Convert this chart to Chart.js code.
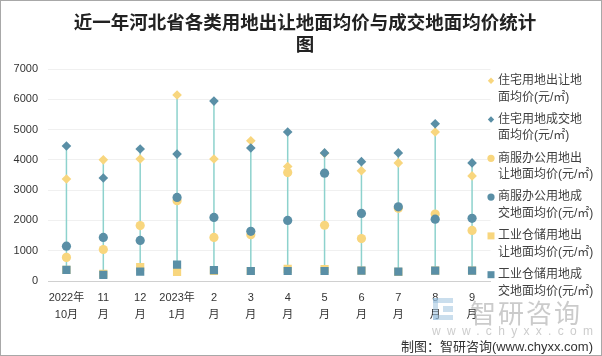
<!DOCTYPE html>
<html>
<head>
<meta charset="utf-8">
<script src="https://cdn.jsdelivr.net/npm/chart.js@4"></script>
<style>
  html,body{margin:0;padding:0;background:#fff;}
  #wrap{position:relative;width:602px;height:356px;overflow:hidden;font-family:'Liberation Sans','Noto Sans CJK SC',sans-serif;}
  #c{position:absolute;left:0;top:0;}
  #frame{position:absolute;left:0;top:0;width:602px;height:356px;box-sizing:border-box;border:1px solid #a8a8a8;pointer-events:none;}
  #title{position:absolute;left:0;top:12px;width:610px;text-align:center;font:bold 18.5px 'DejaVu Serif','Noto Sans CJK SC',serif;line-height:22px;color:#222;}
  #wm1{position:absolute;left:470px;top:293px;font:26px 'Noto Sans CJK SC',sans-serif;color:rgba(160,160,160,0.55);letter-spacing:2px;}
  #wm2{position:absolute;left:432px;top:324px;font:12px 'Liberation Sans',sans-serif;color:rgba(170,170,170,0.6);letter-spacing:6.3px;}
  #icon{position:absolute;left:433px;top:298px;width:20px;height:22px;}
  #icon div{position:absolute;background:rgba(150,190,220,0.5);}
  #foot{position:absolute;right:9px;top:336px;font:13px 'Liberation Sans','Noto Sans CJK SC',sans-serif;color:#333;}
</style>
</head>
<body>
<div id="wrap">
  <canvas id="c" width="602" height="356"></canvas>
  <div id="title">近一年河北省各类用地出让地面均价与成交地面均价统计<br>图</div>
  <div id="icon"><div style="left:0;top:0;width:20px;height:5px"></div><div style="left:0;top:0;width:5px;height:22px"></div><div style="left:0;top:17px;width:20px;height:5px"></div><div style="left:10px;top:8px;width:10px;height:6px"></div></div>
  <div id="wm1">智研咨询</div>
  <div id="wm2">www.chyxx.com</div>
  <div id="foot">制图：智研咨询(www.chyxx.com)</div>
  <div id="frame"></div>
</div>
<script>
// ---- data ----
const categories = [['2022年','10月'],['11','月'],['12','月'],['2023年','1月'],['2','月'],['3','月'],['4','月'],['5','月'],['6','月'],['7','月'],['8','月'],['9','月']];
const resTransfer = [3370, 4000, 4030, 6140, 4030, 4630, 3780, 4220, 3640, 3900, 4920, 3470];
const resDeal     = [4460, 3400, 4360, 4190, 5940, 4390, 4920, 4230, 3940, 4230, 5190, 3900];
const comTransfer = [780, 1040, 1830, 2650, 1440, 1530, 3580, 1840, 1400, 2400, 2210, 1670];
const comDeal     = [1150, 1440, 1340, 2760, 2100, 1640, 2000, 3560, 2230, 2450, 2040, 2070];
const indTransfer = [370, 240, 460, 300, 330, 330, 400, 390, 340, 300, 340, 340];
const indDeal     = [370, 200, 310, 540, 360, 330, 330, 330, 340, 310, 340, 340];
const yTicks = [0, 1000, 2000, 3000, 4000, 5000, 6000, 7000];
const legendLabels = [
  ['住宅用地出让地','面均价(元/㎡)'],
  ['住宅用地成交地','面均价(元/㎡)'],
  ['商服办公用地出','让地面均价(元/㎡)'],
  ['商服办公用地成','交地面均价(元/㎡)'],
  ['工业仓储用地出','让地面均价(元/㎡)'],
  ['工业仓储用地成','交地面均价(元/㎡)']
];

const YEL = '#F8D67E', BLU = '#5A8FA6', LINE = '#8DD2CD';
const allSeries = [resTransfer, resDeal, comTransfer, comDeal, indTransfer, indDeal];

const styles = [
  {c: YEL, s: 'rectRot', r: 4.8},
  {c: BLU, s: 'rectRot', r: 4.8},
  {c: YEL, s: 'circle', r: 4.6},
  {c: BLU, s: 'circle', r: 4.6},
  {c: YEL, s: 'rect', r: 5.8},
  {c: BLU, s: 'rect', r: 5.8}
];

const datasets = [];
allSeries.forEach((arr, k) => {
  datasets.push({
    type: 'line', data: arr, showLine: false,
    pointStyle: styles[k].s, pointRadius: styles[k].r, pointHoverRadius: styles[k].r,
    pointBackgroundColor: styles[k].c, pointBorderColor: styles[k].c, pointBorderWidth: 0,
    order: 6 - k
  });
});

// high-low connector lines drawn through the chart's scales
const rangePlugin = {
  id: 'rangeLines',
  beforeDatasetsDraw(chart) {
    const {ctx, scales: {x, y}} = chart;
    ctx.save();
    ctx.strokeStyle = LINE;
    ctx.lineWidth = 1.5;
    categories.forEach((_, i) => {
      const vals = allSeries.map(s => s[i]);
      const px = x.getPixelForValue(i);
      ctx.beginPath();
      ctx.moveTo(px, y.getPixelForValue(Math.min(...vals)));
      ctx.lineTo(px, y.getPixelForValue(Math.max(...vals)));
      ctx.stroke();
    });
    ctx.restore();
  }
};

const legendPlugin = {
  id: 'customLegend',
  afterDraw(chart) {
    const ctx = chart.ctx;
    ctx.save();
    ctx.font = "12px 'Liberation Sans','Noto Sans CJK SC',sans-serif";
    ctx.textBaseline = 'middle';
    ctx.textAlign = 'left';
    legendLabels.forEach((lines, i) => {
      const y = 80.7 + i * 38.8;
      const mx = 491;
      ctx.fillStyle = styles[i].c;
      ctx.beginPath();
      if (styles[i].s === 'rectRot') {
        ctx.moveTo(mx - 3.2, y); ctx.lineTo(mx, y - 3.2); ctx.lineTo(mx + 3.2, y); ctx.lineTo(mx, y + 3.2); ctx.closePath();
      } else if (styles[i].s === 'circle') {
        ctx.arc(mx, y, 3.6, 0, Math.PI * 2);
      } else {
        ctx.rect(mx - 3.5, y - 3.5, 7, 7);
      }
      ctx.fill();
      ctx.fillStyle = '#404040';
      ctx.fillText(lines[0], 498, y);
      ctx.fillText(lines[1], 498, y + 16.5);
    });
    ctx.restore();
  }
};

new Chart(document.getElementById('c'), {
  type: 'line',
  data: { labels: categories, datasets },
  options: {
    responsive: false,
    animation: false,
    events: [],
    layout: { padding: { top: 69, right: 111.5, left: 0, bottom: 0 } },
    plugins: { legend: { display: false }, tooltip: { enabled: false }, title: { display: false } },
    scales: {
      x: {
        type: 'category', offset: true,
        grid: { display: false, drawTicks: false },
        border: { display: true, color: '#d0d0d0', width: 1 },
        ticks: { color: '#333', font: { size: 11, family: "'Liberation Sans','Noto Sans CJK SC',sans-serif", lineHeight: 1.55 }, padding: 8, maxRotation: 0, autoSkip: false },
        afterFit(s) { s.height = 75; }
      },
      y: {
        min: 0, max: 7000,
        afterBuildTicks(s) { s.ticks = yTicks.map(v => ({ value: v })); },
        grid: { color: '#f0f0f0', drawTicks: false },
        border: { display: false },
        ticks: { color: '#333', font: { size: 11, family: "'Liberation Sans',sans-serif" }, padding: 10, callback: v => String(v) },
        afterFit(s) { s.width = 48; }
      }
    }
  },
  plugins: [rangePlugin, legendPlugin]
});
</script>
</body>
</html>
